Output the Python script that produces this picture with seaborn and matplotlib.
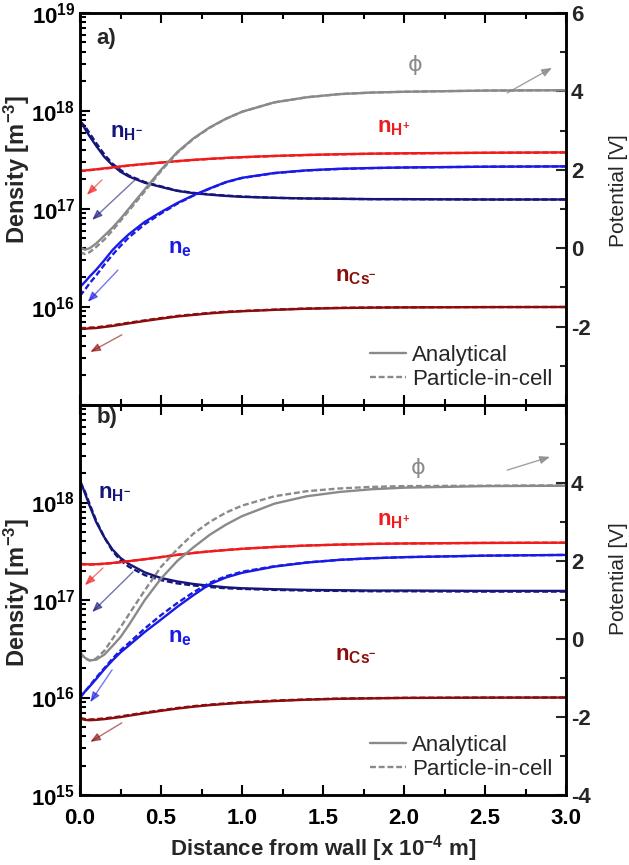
import matplotlib
matplotlib.use("Agg")
import math
import matplotlib.pyplot as plt
import matplotlib.ticker as mticker
from matplotlib.lines import Line2D
import seaborn as sns

# ---------------- data ----------------
x_a = [0.0, 0.03, 0.06, 0.1, 0.15, 0.2, 0.25, 0.3, 0.4, 0.5, 0.6, 0.7, 0.8, 0.9,
       1.0, 1.2, 1.4, 1.6, 1.8, 2.0, 2.5, 3.0]

# panel a)
nHm_a_ana = [8.0e17, 6.6e17, 5.5e17, 4.4e17, 3.4e17, 2.8e17, 2.4e17, 2.15e17, 1.85e17, 1.68e17, 1.53e17,
             1.45e17, 1.4e17, 1.36e17, 1.33e17, 1.3e17, 1.28e17, 1.27e17, 1.26e17, 1.26e17, 1.25e17, 1.25e17]
nHm_a_pic = [7.8e17, 7.0e17, 5.9e17, 4.7e17, 3.6e17, 2.9e17, 2.5e17, 2.2e17, 1.88e17, 1.7e17, 1.54e17,
             1.46e17, 1.41e17, 1.37e17, 1.34e17, 1.3e17, 1.28e17, 1.27e17, 1.26e17, 1.26e17, 1.25e17, 1.25e17]
nHp_a_ana = [2.45e17, 2.47e17, 2.5e17, 2.54e17, 2.6e17, 2.65e17, 2.72e17, 2.78e17, 2.88e17, 2.98e17, 3.08e17,
             3.17e17, 3.25e17, 3.32e17, 3.38e17, 3.48e17, 3.56e17, 3.62e17, 3.67e17, 3.7e17, 3.75e17, 3.78e17]
nHp_a_pic = [2.43e17, 2.46e17, 2.49e17, 2.53e17, 2.58e17, 2.64e17, 2.7e17, 2.77e17, 2.87e17, 2.97e17, 3.07e17,
             3.16e17, 3.24e17, 3.31e17, 3.37e17, 3.47e17, 3.55e17, 3.61e17, 3.66e17, 3.69e17, 3.74e17, 3.77e17]
ne_a_ana = [1.6e16, 1.8e16, 2.05e16, 2.4e16, 3.0e16, 3.8e16, 4.6e16, 5.5e16, 7.4e16, 9.3e16, 1.15e17,
            1.38e17, 1.62e17, 1.88e17, 2.08e17, 2.33e17, 2.48e17, 2.57e17, 2.62e17, 2.65e17, 2.7e17, 2.72e17]
ne_a_pic = [1.3e16, 1.5e16, 1.75e16, 2.1e16, 2.7e16, 3.4e16, 4.2e16, 5.1e16, 7.0e16, 9.0e16, 1.13e17,
            1.37e17, 1.61e17, 1.87e17, 2.07e17, 2.32e17, 2.47e17, 2.56e17, 2.61e17, 2.65e17, 2.7e17, 2.72e17]
nCs_a_ana = [6.0e15, 6.0e15, 6.05e15, 6.1e15, 6.25e15, 6.4e15, 6.6e15, 6.8e15, 7.2e15, 7.6e15, 8.0e15,
             8.3e15, 8.6e15, 8.85e15, 9.05e15, 9.35e15, 9.6e15, 9.75e15, 9.85e15, 9.9e15, 9.97e15, 1.0e16]
nCs_a_pic = [6.1e15, 6.1e15, 6.15e15, 6.2e15, 6.35e15, 6.5e15, 6.7e15, 6.9e15, 7.3e15, 7.7e15, 8.1e15,
             8.4e15, 8.7e15, 8.95e15, 9.1e15, 9.4e15, 9.65e15, 9.8e15, 9.88e15, 9.93e15, 9.98e15, 1.0e16]
phi_a_ana = [0.02, -0.04, 0.0, 0.12, 0.32, 0.52, 0.75, 1.0, 1.5, 2.0, 2.45, 2.8, 3.08, 3.3, 3.48,
             3.72, 3.85, 3.93, 3.97, 3.99, 4.02, 4.03]
phi_a_pic = [-0.1, -0.15, -0.1, 0.03, 0.22, 0.45, 0.7, 0.95, 1.45, 1.97, 2.43, 2.79, 3.07, 3.3, 3.48,
             3.72, 3.85, 3.93, 3.97, 3.99, 4.02, 4.03]

# panel b)
nHm_b_ana = [1.7e18, 1.25e18, 9.2e17, 6.3e17, 4.4e17, 3.3e17, 2.7e17, 2.35e17, 1.92e17, 1.68e17, 1.55e17,
             1.46e17, 1.4e17, 1.35e17, 1.32e17, 1.29e17, 1.27e17, 1.26e17, 1.25e17, 1.25e17, 1.24e17, 1.24e17]
nHm_b_pic = [1.6e18, 1.3e18, 9.6e17, 6.5e17, 4.4e17, 3.2e17, 2.55e17, 2.2e17, 1.8e17, 1.6e17, 1.48e17,
             1.41e17, 1.36e17, 1.32e17, 1.3e17, 1.27e17, 1.25e17, 1.24e17, 1.23e17, 1.23e17, 1.22e17, 1.22e17]
nHp_b_ana = [2.35e17, 2.33e17, 2.32e17, 2.33e17, 2.36e17, 2.4e17, 2.45e17, 2.5e17, 2.62e17, 2.75e17, 2.9e17,
             3.03e17, 3.15e17, 3.25e17, 3.35e17, 3.5e17, 3.62e17, 3.7e17, 3.76e17, 3.8e17, 3.85e17, 3.87e17]
nHp_b_pic = [2.33e17, 2.31e17, 2.31e17, 2.32e17, 2.35e17, 2.39e17, 2.44e17, 2.5e17, 2.62e17, 2.76e17, 2.91e17,
             3.04e17, 3.16e17, 3.26e17, 3.35e17, 3.5e17, 3.62e17, 3.7e17, 3.76e17, 3.8e17, 3.85e17, 3.87e17]
ne_b_ana = [1.0e16, 1.15e16, 1.3e16, 1.55e16, 1.95e16, 2.4e16, 2.9e16, 3.4e16, 4.7e16, 6.3e16, 8.5e16,
            1.12e17, 1.45e17, 1.7e17, 1.9e17, 2.2e17, 2.42e17, 2.58e17, 2.68e17, 2.75e17, 2.85e17, 2.9e17]
ne_b_pic = [1.0e16, 1.15e16, 1.32e16, 1.6e16, 2.0e16, 2.5e16, 3.05e16, 3.6e16, 5.1e16, 7.0e16, 9.3e16,
            1.2e17, 1.5e17, 1.75e17, 1.95e17, 2.22e17, 2.43e17, 2.58e17, 2.68e17, 2.75e17, 2.85e17, 2.9e17]
nCs_b_ana = [6.1e15, 5.9e15, 5.85e15, 5.9e15, 6.0e15, 6.15e15, 6.3e15, 6.5e15, 6.9e15, 7.3e15, 7.7e15,
             8.05e15, 8.35e15, 8.6e15, 8.85e15, 9.2e15, 9.5e15, 9.7e15, 9.8e15, 9.9e15, 9.97e15, 1.0e16]
nCs_b_pic = [6.2e15, 6.0e15, 5.95e15, 6.0e15, 6.1e15, 6.25e15, 6.4e15, 6.6e15, 7.0e15, 7.4e15, 7.8e15,
             8.15e15, 8.45e15, 8.7e15, 8.95e15, 9.3e15, 9.55e15, 9.75e15, 9.85e15, 9.92e15, 9.98e15, 1.0e16]
phi_b_ana = [-0.35, -0.48, -0.55, -0.53, -0.4, -0.18, 0.05, 0.35, 1.0, 1.55, 2.0, 2.35, 2.67, 2.93, 3.15,
             3.47, 3.66, 3.77, 3.84, 3.88, 3.92, 3.93]
phi_b_pic = [-0.35, -0.5, -0.55, -0.5, -0.3, 0.0, 0.3, 0.62, 1.25, 1.85, 2.3, 2.7, 3.0, 3.24, 3.42,
             3.66, 3.79, 3.86, 3.9, 3.92, 3.93, 3.94]

legend_labels = ["Analytical", "Particle-in-cell"]
x_label = "Distance from wall [x 10$^{-4}$ m]"
y_label = "Density [m$^{-3}$]"
y2_label = "Potential [V]"

# ---------------- style ----------------
sns.set_theme(style="ticks")
plt.rcParams["font.family"] = ["Liberation Sans", "DejaVu Sans"]
plt.rcParams["font.weight"] = "bold"
plt.rcParams["mathtext.fontset"] = "custom"
plt.rcParams["mathtext.rm"] = "Liberation Sans"
plt.rcParams["mathtext.bf"] = "Liberation Sans:bold"
plt.rcParams["mathtext.it"] = "Liberation Sans:italic"
plt.rcParams["axes.unicode_minus"] = False

NAVY = "#16167a"
RED = "#ee1c1c"
BLUE = "#1a1ae6"
DRED = "#8b0c0c"
GRAY = "#8a8a8a"

fig = plt.figure(figsize=(6.29, 8.65), dpi=100)
ax_top = fig.add_axes([0.1272, 0.5318, 0.7727, 0.4532])
ax_bot = fig.add_axes([0.1272, 0.0809, 0.7727, 0.4509])

TICK_FS = 16
LW = 1.7


def draw(ax, series, phi_ana, phi_pic, ylab_y, y2lab_y):
    ax.set_yscale("log")
    ax2 = ax.twinx()
    for ana, pic, c in series:
        sns.lineplot(x=x_a, y=ana, ax=ax, color=c, lw=LW)
        sns.lineplot(x=x_a, y=pic, ax=ax, color=c, lw=LW, ls="--")
        ax.get_lines()[-1].set_dashes([2.5, 1.2])
    sns.lineplot(x=x_a, y=phi_ana, ax=ax2, color=GRAY, lw=LW)
    sns.lineplot(x=x_a, y=phi_pic, ax=ax2, color=GRAY, lw=LW, ls="--")
    ax2.get_lines()[-1].set_dashes([2.5, 1.2])

    ax.set_xlim(0, 3.0)
    ax.set_ylim(1e15, 1e19)
    ax2.set_ylim(-4, 6)
    ax.xaxis.set_major_locator(mticker.MultipleLocator(0.5))
    ax.xaxis.set_minor_locator(mticker.MultipleLocator(0.25))
    ax.xaxis.set_major_formatter(mticker.FormatStrFormatter("%.1f"))
    ax.yaxis.set_major_locator(mticker.LogLocator(base=10, numticks=10))
    ax.yaxis.set_minor_locator(mticker.LogLocator(base=10, subs=range(2, 10), numticks=20))
    ax.yaxis.set_minor_formatter(mticker.NullFormatter())
    ax2.yaxis.set_major_locator(mticker.MultipleLocator(2))
    ax2.yaxis.set_minor_locator(mticker.MultipleLocator(1))

    ax.tick_params(which="both", direction="in", top=True, right=False,
                   labelsize=TICK_FS, width=1.5, colors="black")
    ax.tick_params(axis="x", pad=9)
    ax.tick_params(which="major", length=7)
    ax.tick_params(which="minor", length=4)
    ax2.tick_params(which="both", direction="in", labelsize=TICK_FS, width=1.5)
    ax2.tick_params(which="major", length=7)
    ax2.tick_params(which="minor", length=4)
    for a in (ax, ax2):
        for s in a.spines.values():
            s.set_linewidth(1.8)
            s.set_color("black")
    ax.set_xlabel("")
    ax.set_ylabel(y_label, fontsize=17, fontweight="bold")
    ax2.set_ylabel(y2_label, fontsize=15, fontweight="normal")
    ax.yaxis.set_label_coords(-0.099, ylab_y)
    ax2.yaxis.set_label_coords(1.088, y2lab_y)
    ax.legend(handles=[Line2D([], [], color=GRAY, lw=LW),
                       Line2D([], [], color=GRAY, lw=LW, ls=(0, (2.5, 1.2)))],
              labels=legend_labels, loc="lower right", bbox_to_anchor=(1.0, 0.005),
              frameon=False, prop={"size": 16, "weight": "normal"},
              handlelength=1.6, handletextpad=0.3, labelspacing=0.12, borderaxespad=0.2)
    return ax2


def arrow(ax, tail, tip, color, alpha=0.6):
    ax.annotate("", xy=tip, xytext=tail, xycoords="axes fraction", textcoords="axes fraction",
                arrowprops=dict(arrowstyle="-|>,head_length=0.5,head_width=0.2",
                                color=color, lw=1.0, alpha=alpha, shrinkA=0, shrinkB=0))


series_a = [(nHm_a_ana, nHm_a_pic, NAVY), (nHp_a_ana, nHp_a_pic, RED),
            (ne_a_ana, ne_a_pic, BLUE), (nCs_a_ana, nCs_a_pic, DRED)]
series_b = [(nHm_b_ana, nHm_b_pic, NAVY), (nHp_b_ana, nHp_b_pic, RED),
            (ne_b_ana, ne_b_pic, BLUE), (nCs_b_ana, nCs_b_pic, DRED)]

ax2_top = draw(ax_top, series_a, phi_a_ana, phi_a_pic, 0.60, 0.548)
ax2_bot = draw(ax_bot, series_b, phi_b_ana, phi_b_pic, 0.52, 0.556)


def log_fmt(v, pos):
    e = int(round(math.log10(v)))
    return r"$\mathbf{10^{%d}}$" % e


def lin_fmt(v, pos):
    return "%d" % round(v)


for a in (ax_top, ax_bot):
    a.yaxis.set_major_formatter(mticker.FuncFormatter(log_fmt))
for a in (ax2_top, ax2_bot):
    a.yaxis.set_major_formatter(mticker.FuncFormatter(lin_fmt))

# hide overlapping labels at the panel join
ax_top.tick_params(labelbottom=False)
fig.canvas.draw()
for lab in ax_top.get_yticklabels():
    if lab.get_position()[1] <= 1.01e15:
        lab.set_visible(False)
for lab in ax_bot.get_yticklabels():
    if lab.get_position()[1] >= 0.99e19:
        lab.set_visible(False)
for lab in ax2_top.get_yticklabels():
    if lab.get_position()[1] <= -3.9:
        lab.set_visible(False)
for lab in ax2_bot.get_yticklabels():
    if lab.get_position()[1] >= 5.9:
        lab.set_visible(False)

ax_bot.set_xlabel(x_label, fontsize=16, fontweight="bold", labelpad=3)

# annotations: panel a
T = ax_top.transAxes
ax_top.text(0.053, 0.936, "a)", transform=T, fontsize=16, ha="center", va="center")
ax_top.text(0.062, 0.696, r"$\mathbf{n_{H^{-}}}$", transform=T, fontsize=16, color=NAVY, va="center")
ax_top.text(0.611, 0.707, r"$\mathbf{n_{H^{+}}}$", transform=T, fontsize=16, color=RED, va="center")
ax_top.text(0.181, 0.40, r"$\mathbf{n_{e}}$", transform=T, fontsize=16, color=BLUE, va="center")
ax_top.text(0.525, 0.327, r"$\mathbf{n_{Cs^{-}}}$", transform=T, fontsize=16, color=DRED, va="center")
ax_top.text(0.689, 0.867, "ϕ", transform=T, fontsize=16, color=GRAY, ha="center", va="center",
            fontweight="normal", family=["DejaVu Sans"])
arrow(ax_top, (0.045, 0.574), (0.014, 0.536), RED)
arrow(ax_top, (0.113, 0.574), (0.025, 0.472), NAVY)
arrow(ax_top, (0.078, 0.344), (0.016, 0.263), BLUE)
arrow(ax_top, (0.086, 0.179), (0.021, 0.135), DRED)
arrow(ax_top, (0.879, 0.796), (0.971, 0.860), GRAY, alpha=0.8)

# annotations: panel b
B = ax_bot.transAxes
ax_bot.text(0.056, 0.969, "b)", transform=B, fontsize=16, ha="center", va="center")
ax_bot.text(0.037, 0.774, r"$\mathbf{n_{H^{-}}}$", transform=B, fontsize=16, color=NAVY, va="center")
ax_bot.text(0.611, 0.705, r"$\mathbf{n_{H^{+}}}$", transform=B, fontsize=16, color=RED, va="center")
ax_bot.text(0.181, 0.405, r"$\mathbf{n_{e}}$", transform=B, fontsize=16, color=BLUE, va="center")
ax_bot.text(0.525, 0.359, r"$\mathbf{n_{Cs^{-}}}$", transform=B, fontsize=16, color=DRED, va="center")
ax_bot.text(0.695, 0.838, "ϕ", transform=B, fontsize=16, color=GRAY, ha="center", va="center",
            fontweight="normal", family=["DejaVu Sans"])
arrow(ax_bot, (0.047, 0.582), (0.010, 0.538), RED)
arrow(ax_bot, (0.109, 0.572), (0.025, 0.469), NAVY)
arrow(ax_bot, (0.066, 0.321), (0.021, 0.238), BLUE)
arrow(ax_bot, (0.086, 0.185), (0.021, 0.136), DRED)
arrow(ax_bot, (0.879, 0.833), (0.967, 0.867), GRAY, alpha=0.8)

fig.savefig("out.png", dpi=100)
